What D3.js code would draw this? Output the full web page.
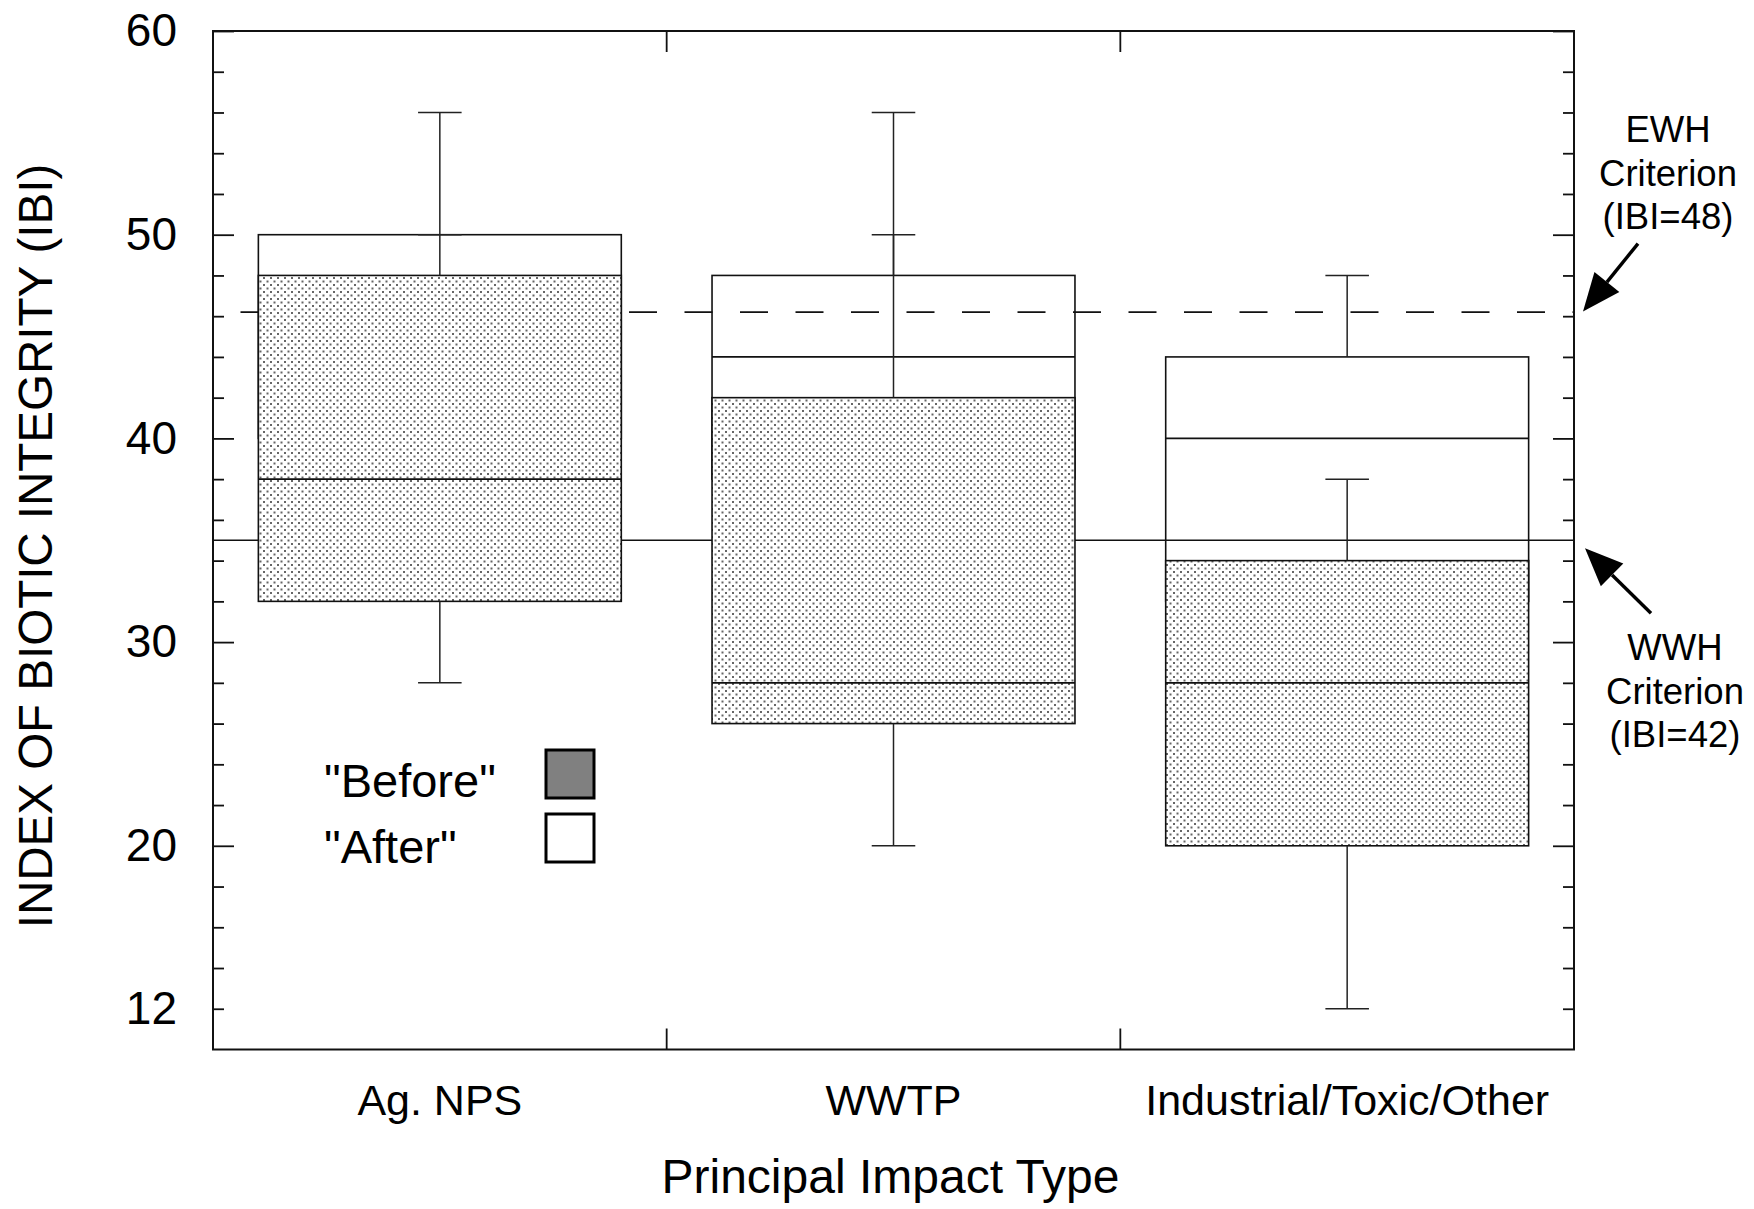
<!DOCTYPE html>
<html>
<head>
<meta charset="utf-8">
<script src="https://cdn.jsdelivr.net/npm/d3@7"></script>
<style>
  body { margin: 0; background: #fff; }
  svg { display: block; }
</style>
</head>
<body>
<div id="chart"></div>
<script>

const categories = ["Ag. NPS", "WWTP", "Industrial/Toxic/Other"];

// "Before" boxes (stippled)
const beforeMin = [28, 20, 12];
const beforeQ1 = [32, 26, 20];
const beforeMedian = [38, 28, 28];
const beforeQ3 = [48, 42, 34];
const beforeMax = [50, 50, 38];

// "After" boxes (open); the lower parts sit behind the "before" boxes
const afterMin = [34, 34, 30];
const afterQ1 = [40, 38, 32];
const afterMedian = [44, 44, 40];
const afterQ3 = [50, 48, 44];
const afterMax = [56, 56, 48];

const yMinorTicks = [12, 14, 16, 18, 22, 24, 26, 28, 32, 34, 36, 38, 42, 44, 46, 48, 52, 54, 56, 58];
const yMajorTicks = [20, 30, 40, 50, 60];
const yLabelTicks = [12, 20, 30, 40, 50, 60];

const criteriaValues = [46.2, 35];
const criteriaLabels = [["EWH", "Criterion", "(IBI=48)"], ["WWH", "Criterion", "(IBI=42)"]];
const legendLabels = ['"Before"', '"After"'];

const font = "'Liberation Sans', Arial, Helvetica, sans-serif";

function drawChart() {

    const margin = {top: 31, right: 180, bottom: 159.5, left: 213},
        width = 1754 - margin.left - margin.right,
        height = 1209 - margin.top - margin.bottom;

    const root = d3.select("#chart")
        .append("svg")
        .attr("width", 1754)
        .attr("height", 1209)
        .style("font-family", font);

    const pattern = root.append("defs")
        .append("pattern")
        .attr("id", "stipple")
        .attr("patternUnits", "userSpaceOnUse")
        .attr("width", 7)
        .attr("height", 7);
    pattern.append("rect").attr("width", 7).attr("height", 7).attr("fill", "#fff");
    pattern.append("rect").attr("x", 1).attr("y", 1).attr("width", 2).attr("height", 2).attr("fill", "#666");
    pattern.append("rect").attr("x", 4.5).attr("y", 4.5).attr("width", 2).attr("height", 2).attr("fill", "#666");

    const svg = root.append("g")
        .attr("transform", `translate(${margin.left},${margin.top})`);

    const x = d3.scaleBand()
        .domain(categories)
        .range([0, width])
        .padding(0);

    const y = d3.scaleLinear()
        .domain([10, 60])
        .range([height, 0]);

    const boxW = x.bandwidth() * 0.8;
    const capW = boxW * 0.12;
    const cx = d => x(d) + x.bandwidth() / 2;

    function drawBoxes(cls, lo, q1, med, q3, hi, fill) {
        const g = svg.append("g").attr("class", cls);
        const rows = categories.map((c, i) => ({c: c, lo: lo[i], q1: q1[i], med: med[i], q3: q3[i], hi: hi[i]}));

        // whiskers
        rows.forEach(d => {
            g.append("line")
                .attr("x1", cx(d.c)).attr("x2", cx(d.c))
                .attr("y1", y(d.q3)).attr("y2", y(d.hi))
                .attr("stroke", "#222").attr("stroke-width", 1.5);
            g.append("line")
                .attr("x1", cx(d.c)).attr("x2", cx(d.c))
                .attr("y1", y(d.q1)).attr("y2", y(d.lo))
                .attr("stroke", "#222").attr("stroke-width", 1.5);
            [d.lo, d.hi].forEach(v => {
                g.append("line")
                    .attr("x1", cx(d.c) - capW / 2).attr("x2", cx(d.c) + capW / 2)
                    .attr("y1", y(v)).attr("y2", y(v))
                    .attr("stroke", "#222").attr("stroke-width", 1.5);
            });
        });

        g.selectAll("rect")
            .data(rows)
            .join("rect")
            .attr("x", d => cx(d.c) - boxW / 2)
            .attr("y", d => y(d.q3))
            .attr("width", boxW)
            .attr("height", d => y(d.q1) - y(d.q3))
            .attr("fill", fill)
            .attr("stroke", "#111")
            .attr("stroke-width", 1.6);

        g.selectAll("line.median")
            .data(rows)
            .join("line")
            .attr("class", "median")
            .attr("x1", d => cx(d.c) - boxW / 2)
            .attr("x2", d => cx(d.c) + boxW / 2)
            .attr("y1", d => y(d.med))
            .attr("y2", d => y(d.med))
            .attr("stroke", "#111")
            .attr("stroke-width", 1.6);

        return g;
    }

    // after boxes first, then the criteria lines, then before boxes on top
    const afterG = drawBoxes("after", afterMin, afterQ1, afterMedian, afterQ3, afterMax, "#fff");
    afterG.selectAll("rect").lower();

    svg.append("line")
        .attr("x1", 0).attr("x2", width)
        .attr("y1", y(criteriaValues[0])).attr("y2", y(criteriaValues[0]))
        .attr("stroke", "#111")
        .attr("stroke-width", 1.6)
        .attr("stroke-dasharray", "28,27.5")
        .attr("stroke-dashoffset", 28);
    svg.append("line")
        .attr("x1", 0).attr("x2", width)
        .attr("y1", y(criteriaValues[1])).attr("y2", y(criteriaValues[1]))
        .attr("stroke", "#111")
        .attr("stroke-width", 1.6);

    const beforeG = drawBoxes("before", beforeMin, beforeQ1, beforeMedian, beforeQ3, beforeMax, "url(#stipple)");
    beforeG.selectAll("rect").lower();

    // axes: minor ticks, major ticks, labels
    svg.append("g")
        .call(d3.axisLeft(y).tickValues(yMinorTicks).tickSizeInner(-11).tickSizeOuter(0).tickFormat(""))
        .call(g => g.select(".domain").remove());
    svg.append("g")
        .call(d3.axisLeft(y).tickValues(yMajorTicks).tickSizeInner(-21).tickSizeOuter(0).tickFormat(""))
        .call(g => g.select(".domain").remove());
    svg.append("g")
        .attr("transform", `translate(${width},0)`)
        .call(d3.axisRight(y).tickValues(yMinorTicks).tickSizeInner(-11).tickSizeOuter(0).tickFormat(""))
        .call(g => g.select(".domain").remove());
    svg.append("g")
        .attr("transform", `translate(${width},0)`)
        .call(d3.axisRight(y).tickValues(yMajorTicks).tickSizeInner(-21).tickSizeOuter(0).tickFormat(""))
        .call(g => g.select(".domain").remove());
    svg.selectAll(".tick line").attr("stroke", "#111").attr("stroke-width", 1.8);

    svg.append("g")
        .call(d3.axisLeft(y).tickValues(yLabelTicks).tickSize(0).tickPadding(36))
        .attr("font-size", 46)
        .attr("font-family", font)
        .call(g => g.select(".domain").remove())
        .call(g => g.selectAll("text").attr("fill", "#000"));

    // category boundary ticks on top and bottom
    const bounds = categories.slice(1).map(c => x(c));
    bounds.forEach(b => {
        svg.append("line").attr("x1", b).attr("x2", b).attr("y1", height).attr("y2", height - 21)
            .attr("stroke", "#111").attr("stroke-width", 1.8);
        svg.append("line").attr("x1", b).attr("x2", b).attr("y1", 0).attr("y2", 21)
            .attr("stroke", "#111").attr("stroke-width", 1.8);
    });

    svg.append("g")
        .attr("transform", `translate(0, ${height})`)
        .call(d3.axisBottom(x).tickSize(0))
        .attr("font-size", 43)
        .attr("font-family", font)
        .call(g => g.select(".domain").remove())
        .call(g => g.selectAll("text").attr("y", 65.5).attr("dy", 0).attr("fill", "#000"));

    svg.append("rect")
        .attr("width", width)
        .attr("height", height)
        .attr("fill", "none")
        .attr("stroke", "#111")
        .attr("stroke-width", 2);

    svg.append("text")
        .attr("transform", `translate(${52 - margin.left}, ${546 - margin.top}) rotate(-90)`)
        .attr("text-anchor", "middle")
        .attr("font-size", 47.5)
        .text("INDEX OF BIOTIC INTEGRITY (IBI)");

    svg.append("text")
        .attr("x", width / 2 - 3)
        .attr("y", 1193 - margin.top)
        .attr("text-anchor", "middle")
        .attr("font-size", 48)
        .text("Principal Impact Type");

    // criteria annotations
    const annX = [1668 - margin.left, 1675 - margin.left];
    const annY = [y(criteriaValues[0]) - 170, y(criteriaValues[1]) + 120];
    criteriaLabels.forEach((lines, i) => {
        svg.append("text")
            .attr("text-anchor", "middle")
            .attr("font-size", 36.5)
            .selectAll("tspan")
            .data(lines)
            .join("tspan")
            .attr("x", annX[i])
            .attr("y", (d, j) => annY[i] + j * 43.5)
            .text(d => d);
    });

    const arrows = [
        {tip: [width + 9, y(criteriaValues[0]) - 0.5], tail: [width + 64, y(criteriaValues[0]) - 68.5]},
        {tip: [width + 11, y(criteriaValues[1]) + 8], tail: [width + 77, y(criteriaValues[1]) + 73]}
    ];
    arrows.forEach(a => {
        const dx = a.tail[0] - a.tip[0], dy = a.tail[1] - a.tip[1];
        const len = Math.sqrt(dx * dx + dy * dy);
        const ux = dx / len, uy = dy / len;
        const bx = a.tip[0] + ux * 38, by = a.tip[1] + uy * 38;
        svg.append("line")
            .attr("x1", a.tail[0]).attr("y1", a.tail[1])
            .attr("x2", bx).attr("y2", by)
            .attr("stroke", "#000").attr("stroke-width", 3.4);
        svg.append("path")
            .attr("d", `M${a.tip[0]},${a.tip[1]}L${bx - uy * 16},${by + ux * 16}L${bx + uy * 16},${by - ux * 16}Z`)
            .attr("fill", "#000");
    });

    // legend
    const legendFill = ["#808080", "#fff"];
    legendLabels.forEach((lab, i) => {
        svg.append("text")
            .attr("x", 324 - margin.left)
            .attr("y", [797, 863][i] - margin.top)
            .attr("font-size", 47)
            .text(lab);
        svg.append("rect")
            .attr("x", 546 - margin.left)
            .attr("y", [750, 814][i] - margin.top)
            .attr("width", 48)
            .attr("height", 48)
            .attr("fill", legendFill[i])
            .attr("stroke", "#000")
            .attr("stroke-width", 3);
    });

    svg.node();
}

drawChart();
</script>
</body>
</html>
